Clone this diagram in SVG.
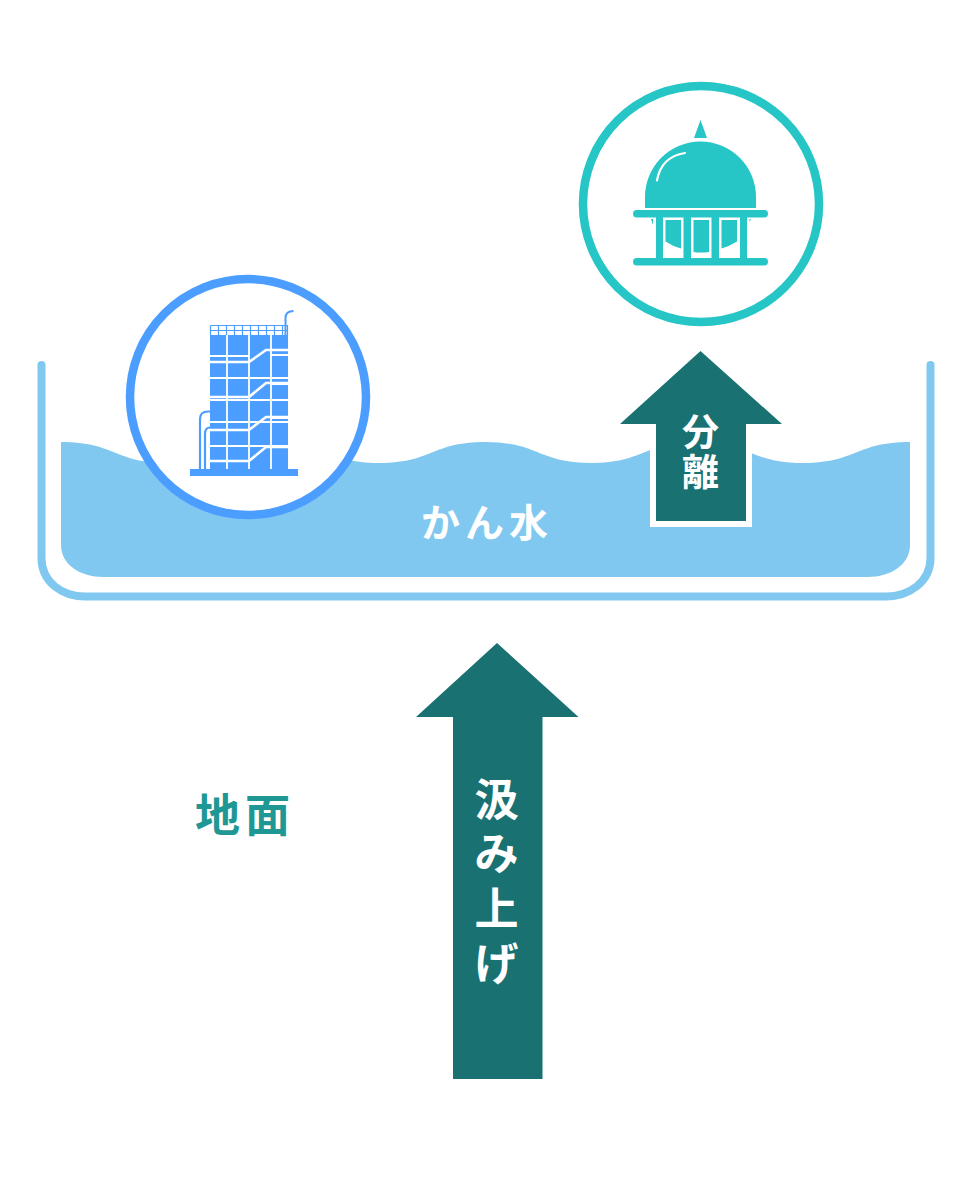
<svg xmlns="http://www.w3.org/2000/svg" width="966" height="1188" viewBox="0 0 966 1188">
<style>
.t{font-family:"Noto Sans CJK JP","Noto Sans",sans-serif;font-weight:700;text-anchor:middle}
.w{fill:#fff}
.bw{stroke:#fff;fill:none}
.bb{stroke:#4b9eff;fill:none}
</style>
<rect width="966" height="1188" fill="#fff"/>
<g id="tank">
<path d="M41.500 365V558C41.500 582 62 596.500 85 596.500H886C909 596.500 930.500 582 930.500 558V365" fill="none" stroke="#81c8f0" stroke-width="8" stroke-linecap="round"/>
<path id="water" d="M61 442C115 442 115 463 167 463C220 463 220 442 273 442C326 442 326 463 379 463C432 463 432 442 485 442C538 442 538 463 591 463C644 463 644 442 697 442C750 442 750 463 803 463C856 463 856 442 910 442V545C910 565 890 577 868 577H103C81 577 61 565 61 545Z" fill="#81c8f0"/>
<text class="t w" x="487" y="537" font-size="39" letter-spacing="5">かん水</text>
</g>
<g id="plant-left">
<circle cx="248" cy="397" r="118" fill="#fff" stroke="#4b9eff" stroke-width="8.500"/>
<rect x="190" y="469" width="108" height="7" fill="#4b9eff"/>
<rect x="210" y="335" width="78" height="134" fill="#4b9eff"/>
<path class="bb" stroke-width="1.200" d="M210.500 325.500H287.500V335M210.500 325.500V335M210 330.500H288M218.500 325V335M226.500 325V335M234.500 325V335M242.500 325V335M250.500 325V335M258.500 325V335M266.500 325V335M274.500 325V335M282.500 325V335"/>
<path class="bb" stroke-width="2" d="M285.500 335V318Q285.500 311 293.500 311"/>
<path class="bw" stroke-width="1.800" d="M227 335V469M249 335V469M271 335V469M210 356H249M271 355H288M210 378H288M271 384H288M210 400H288M210 422H288M271 418H288M210 446H288"/>
<path class="bw" stroke-width="2.600" d="M288 350H266L249 362H210M288 383H266L249 397H210M288 417H266L249 430H206M288 447H266L249 461H210"/>
<path class="bw" stroke-width="2.500" d="M208.500 431V469"/>
<path class="bb" stroke-width="2.200" d="M200 469V419Q200 411.500 208 411.500H210M205 469V434Q205 427.500 210 427.500"/>
</g>
<g id="plant-right">
<circle cx="701" cy="204" r="118" fill="#fff" stroke="#26c6c6" stroke-width="8.500"/>
<path d="M694 138L700.500 120L707 138Z" fill="#26c6c6"/>
<path d="M645 208V197A55.500 55.500 0 0 1 756 197V208Z" fill="#26c6c6"/>
<path d="M657 180.500Q661 157 685 153" fill="none" stroke="#fff" stroke-width="2.200" stroke-linecap="round"/>
<rect x="633" y="210" width="135" height="7.500" rx="3.700" fill="#26c6c6"/>
<rect x="633" y="258" width="135" height="7.500" rx="3.700" fill="#26c6c6"/>
<g fill="#26c6c6">
<rect x="656" y="217" width="7" height="42"/><rect x="683.500" y="217" width="7.500" height="42"/>
<rect x="711.500" y="217" width="7.500" height="42"/><rect x="740" y="217" width="7" height="42"/>
<path d="M665.500 220H681V248.500Q672 246 665.500 241.500Z"/>
<path d="M693.500 220H709V252Q701 253 693.500 252Z"/>
<path d="M721.500 220H737V241.500Q730 246 721.500 248.500Z"/>
<path d="M651 219H653V225Z"/><path d="M749.500 219H751L749.500 222Z"/>
</g>
</g>
<g id="connectors">
<path id="arrow-separate" d="M700.500 351L782 424H746V521H656V424H620Z" fill="#197171"/>
<path d="M650 440V527H752V440H746V521H656V440Z" fill="#fff"/>
<path id="arrow-pump" d="M497 643L578.500 717H542.500V1079H453V717H416Z" fill="#197171"/>
</g>
<text class="t w" x="700.500" y="446" font-size="37">分</text>
<text class="t w" x="700.500" y="486" font-size="37">離</text>
<text class="t w" x="496.500" y="816" font-size="44">汲</text>
<text class="t w" x="496.500" y="870" font-size="44">み</text>
<text class="t w" x="496.500" y="925" font-size="44">上</text>
<text class="t w" x="496.500" y="980" font-size="44">げ</text>
<text class="t" x="245" y="832" font-size="45" fill="#1f9794" letter-spacing="5">地面</text>
</svg>
